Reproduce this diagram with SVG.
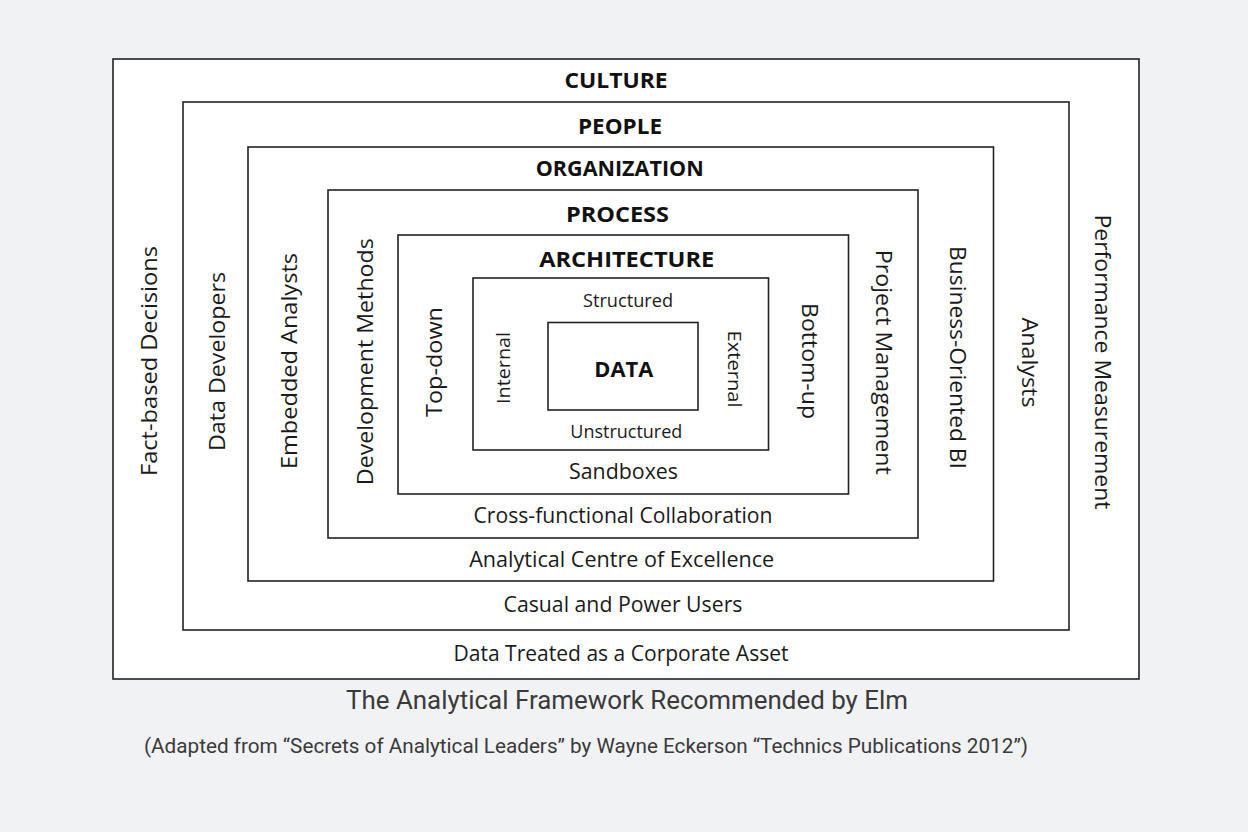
<svg xmlns="http://www.w3.org/2000/svg" width="1248" height="832" viewBox="0 0 1248 832">
<style>
.box{fill:#ffffff;stroke:#222222;stroke-width:1.6}
.lbl{font-family:"Open Sans","Noto Sans","Liberation Sans",sans-serif;font-size:21px;fill:#1a1a1a;text-anchor:middle}
.sm{font-size:18px}
.hd{font-family:"Open Sans","Noto Sans","Liberation Sans",sans-serif;font-size:21px;font-weight:bold;fill:#111111;text-anchor:middle}
.cap{font-family:Roboto,"Noto Sans","Liberation Sans",sans-serif;fill:#3a3a3a;text-anchor:middle}
</style>
<rect x="0" y="0" width="1248" height="832" fill="#f1f2f4"/>
<g id="culture">
<rect class="box" x="113" y="59" width="1026" height="620"/>
<text class="hd" x="616" y="87.5" textLength="103" lengthAdjust="spacingAndGlyphs">CULTURE</text>
<text class="lbl" x="621" y="660.5" textLength="335" lengthAdjust="spacingAndGlyphs">Data Treated as a Corporate Asset</text>
<text class="lbl" transform="translate(157,361) rotate(-90)" textLength="230" lengthAdjust="spacingAndGlyphs">Fact-based Decisions</text>
<text class="lbl" transform="translate(1095,362) rotate(90)" textLength="295" lengthAdjust="spacingAndGlyphs">Performance Measurement</text>
</g>
<g id="people">
<rect class="box" x="183" y="102" width="886" height="528"/>
<text class="hd" x="620" y="134" textLength="84" lengthAdjust="spacingAndGlyphs">PEOPLE</text>
<text class="lbl" x="623" y="611.5" textLength="239" lengthAdjust="spacingAndGlyphs">Casual and Power Users</text>
<text class="lbl" transform="translate(225,361.5) rotate(-90)" textLength="179" lengthAdjust="spacingAndGlyphs">Data Developers</text>
<text class="lbl" transform="translate(1022,362.5) rotate(90)" textLength="90" lengthAdjust="spacingAndGlyphs">Analysts</text>
</g>
<g id="organization">
<rect class="box" x="248" y="147" width="745.5" height="434"/>
<text class="hd" x="619.7" y="175.5" textLength="168" lengthAdjust="spacingAndGlyphs">ORGANIZATION</text>
<text class="lbl" x="621.7" y="567" textLength="305" lengthAdjust="spacingAndGlyphs">Analytical Centre of Excellence</text>
<text class="lbl" transform="translate(297,361) rotate(-90)" textLength="216" lengthAdjust="spacingAndGlyphs">Embedded Analysts</text>
<text class="lbl" transform="translate(950,357.5) rotate(90)" textLength="223" lengthAdjust="spacingAndGlyphs">Business-Oriented BI</text>
</g>
<g id="process">
<rect class="box" x="328" y="190" width="590" height="348"/>
<text class="hd" x="617.5" y="221.5" textLength="103" lengthAdjust="spacingAndGlyphs">PROCESS</text>
<text class="lbl" x="623" y="522.5" textLength="299" lengthAdjust="spacingAndGlyphs">Cross-functional Collaboration</text>
<text class="lbl" transform="translate(373,361.7) rotate(-90)" textLength="247" lengthAdjust="spacingAndGlyphs">Development Methods</text>
<text class="lbl" transform="translate(876,362.3) rotate(90)" textLength="225" lengthAdjust="spacingAndGlyphs">Project Management</text>
</g>
<g id="architecture">
<rect class="box" x="398" y="235" width="450.5" height="259"/>
<text class="hd" x="626.7" y="266.5" textLength="175" lengthAdjust="spacingAndGlyphs">ARCHITECTURE</text>
<text class="lbl" x="623.5" y="479" textLength="109" lengthAdjust="spacingAndGlyphs">Sandboxes</text>
<text class="lbl" transform="translate(442,362) rotate(-90)" textLength="110" lengthAdjust="spacingAndGlyphs">Top-down</text>
<text class="lbl" transform="translate(802,361) rotate(90)" textLength="116" lengthAdjust="spacingAndGlyphs">Bottom-up</text>
</g>
<g id="data-sources">
<rect class="box" x="473" y="278" width="295.5" height="172"/>
<text class="lbl sm" x="628" y="306.5" textLength="90" lengthAdjust="spacingAndGlyphs">Structured</text>
<text class="lbl sm" x="626.3" y="437.5" textLength="112" lengthAdjust="spacingAndGlyphs">Unstructured</text>
<text class="lbl sm" transform="translate(510,368) rotate(-90)" textLength="72" lengthAdjust="spacingAndGlyphs">Internal</text>
<text class="lbl sm" transform="translate(728,369) rotate(90)" textLength="77" lengthAdjust="spacingAndGlyphs">External</text>
</g>
<g id="data">
<rect class="box" x="548" y="322.5" width="150" height="87.5"/>
<text class="hd" style="font-size:22px" x="623.8" y="376.5" textLength="59" lengthAdjust="spacingAndGlyphs">DATA</text>
</g>
<g id="connectors"></g>
<g id="caption">
<text class="cap" x="627" y="709" style="font-size:25px" textLength="562" lengthAdjust="spacingAndGlyphs">The Analytical Framework Recommended by Elm</text>
<text class="cap" x="586" y="753" style="font-size:20px" textLength="884" lengthAdjust="spacingAndGlyphs">(Adapted from “Secrets of Analytical Leaders” by Wayne Eckerson “Technics Publications 2012”)</text>
</g>
</svg>
